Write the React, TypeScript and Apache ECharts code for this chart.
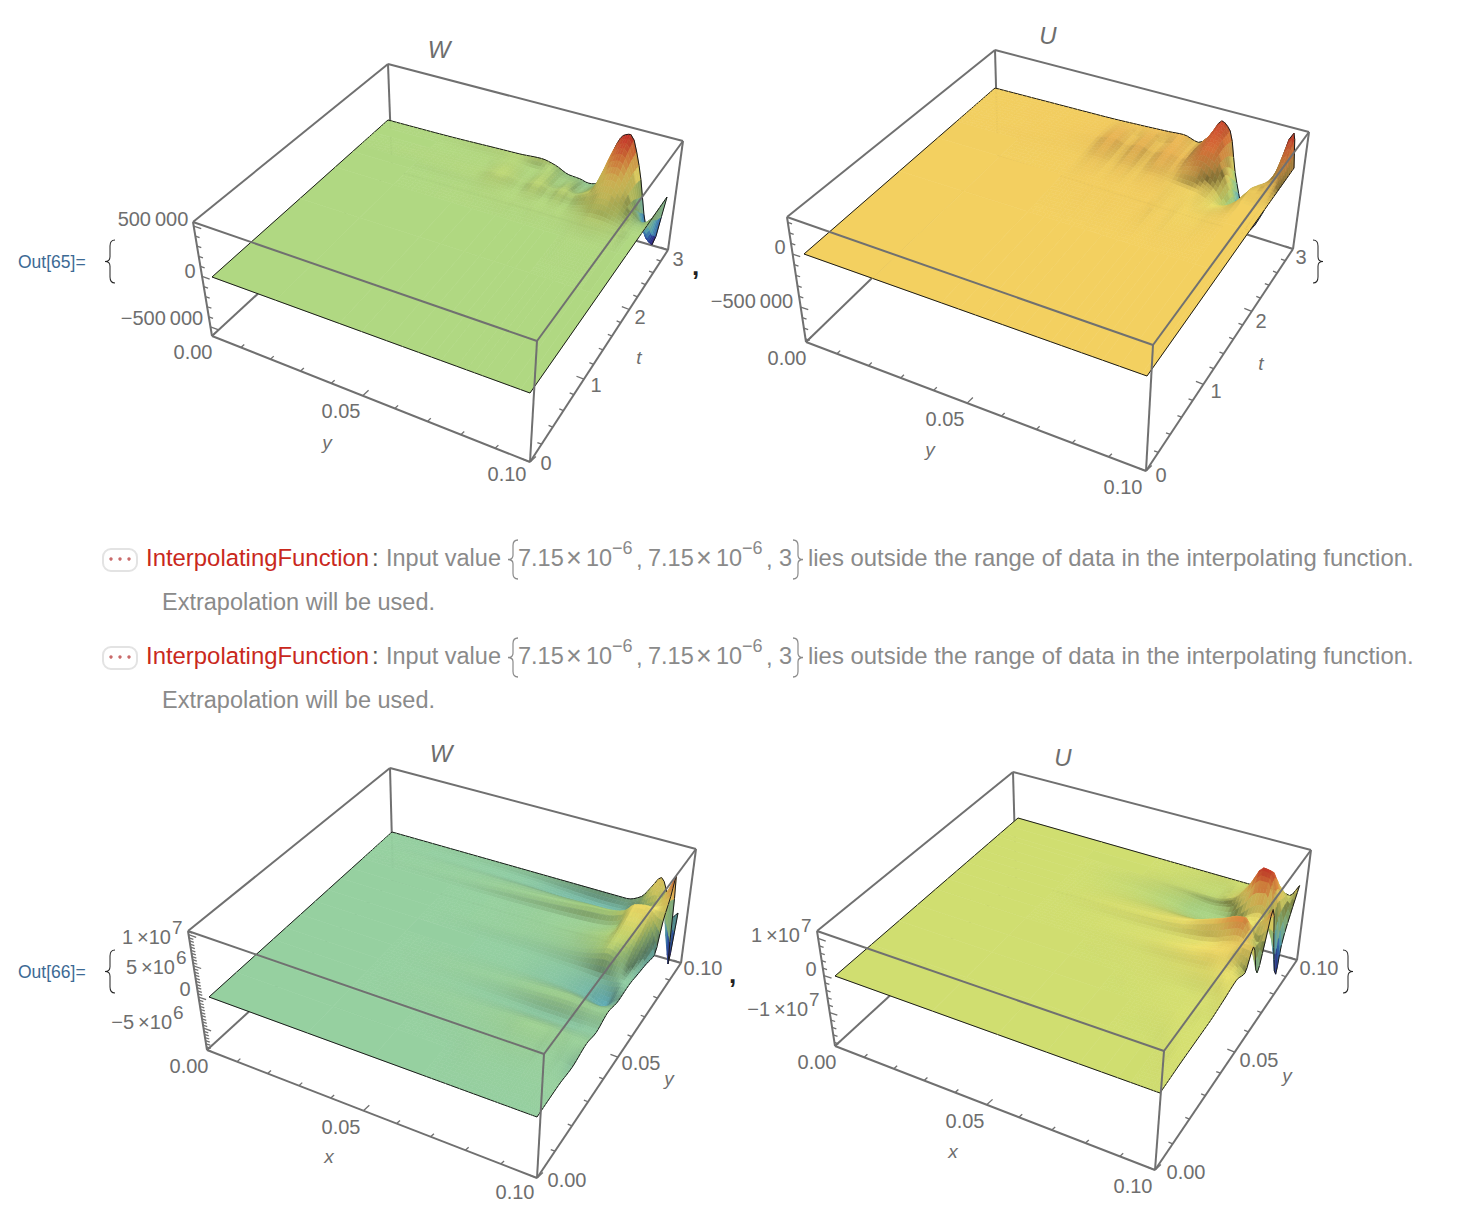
import React, { useEffect, useRef } from "react";
import * as echarts from "echarts";

// ---------- values (heights: W/U in 1e5 on top row, 1e6 on bottom row)
const P1_U = [0, .2, .4, .47, .55, .6, .65, .69, .72, .77, .80, .825, .85, .89, .94, .97, 1];
const P1_V = [0, .5, .7, .8, .84, .88, .92, .96, 1];
const P1_Z = [
  [0, 0, 0, 0, 0, 0, 0, 0, 0, 0, 0, 0, 0, 0, 0, 0, 0],
  [0, 0, 0, 0, 0, 0, 0, 0, 0, 0, 0, 0, 0, 0, 0, 0, 0],
  [0, 0, .03, .03, .03, .03, .03, .03, .03, .03, .05, .05, .05, .05, .03, 0, 0],
  [0, 0, .05, .1, .1, .1, .1, .1, .1, .2, .3, .4, .4, .3, .1, 0, 0],
  [0, .03, .1, .2, .08, .22, .08, .2, .1, .4, .7, 1, 1.1, .7, .1, -.1, 0],
  [0, .05, .12, .35, .12, .4, .15, .4, .25, .8, 1.4, 2, 2.2, 1.3, 0, -.5, 0],
  [0, .03, .08, .3, .05, .3, -.1, .2, -.2, .5, 2.2, 3.2, 3.4, 2, -1, -2, 0],
  [0, .03, .1, .2, .05, .2, -.2, -.1, -.5, .2, 3, 4.3, 4.6, 2.4, -2.5, -4, 0],
  [0, .05, .2, .25, .4, .1, -.5, -.6, -.8, -.3, 3.5, 5, 5.3, 2.4, -3.6, -5.2, 0],
];
const P2_U = [0, .2, .4, .45, .5, .54, .58, .63, .68, .72, .75, .78, .81, .84, .87, .92, .985, 1];
const P2_V = [0, .5, .7, .8, .85, .9, .95, 1];
const P2_Z = [
  [0, 0, 0, 0, 0, 0, 0, 0, 0, 0, 0, 0, 0, 0, 0, 0, 0, 0],
  [0, 0, 0, 0, 0, 0, 0, 0, 0, 0, 0, 0, 0, 0, 0, 0, 0, 0],
  [0, 0, .03, .05, .05, .05, .05, .05, .05, -.05, -.1, -.2, -.2, -.2, -.1, 0, 0, 0],
  [0, .03, .05, .15, .05, .15, .05, .15, .05, -.1, -.2, -.3, -.6, -1, -.8, 0, 0, 0],
  [0, .05, .1, .35, .1, .35, .1, .4, .2, .5, .6, 0, -.6, -1.6, -2.5, 0, .1, 0],
  [0, .05, .15, .5, .15, .5, .15, .55, .3, 1.1, 1.8, 1.6, .3, -1.5, -3, -.5, .4, 0],
  [0, .05, .12, .35, .1, .4, .1, .45, .2, 1.4, 2.4, 2, -.5, -3.5, -5.5, -3.5, 1.5, 0],
  [0, .05, .1, .15, .2, .25, .3, .4, 0, 1.2, 2.8, 2, -2, -5, -7.5, -5, 3.4, 0],
];
const P3_U = [0, .3, .5, .65, .75, .82, .87, .9, .93, .96, .98, 1];
const P3_V = [0, .15, .25, .35, .42, .5, .58, .65, .72, .78, .84, .88, .92, .945, .97, 1];
const P3_Z = [
  [0, 0, 0, 0, 0, 0, 0, 0, 0, 0, 0, 0],
  [0, 0, 0, 0, .1, .1, .1, .1, .1, .1, .1, .1],
  [0, 0, 0, .1, .2, .3, .3, .2, .2, .1, 0, -.2],
  [0, 0, .1, .2, .4, .6, .6, .5, .4, .3, .3, .3],
  [0, 0, 0, -.1, -.2, -.3, -.3, -.3, -.3, -.2, -.2, -.2],
  [0, 0, .1, .2, .5, .7, .8, .7, .6, .5, .5, .4],
  [0, 0, -.05, -.1, -.3, -.5, -.8, -1, -1.5, -1.8, -1, -.3],
  [0, 0, -.05, -.1, -.2, -.3, -.4, -.5, -.5, -.3, -.2, -.2],
  [0, 0, .1, .2, .4, .8, 1.5, 2, 1.5, .8, -.2, -.6],
  [0, 0, .1, .3, .6, 1.2, 1.8, 2.5, 2.5, 2, 0, -1],
  [0, 0, .1, .3, .5, .8, 1.6, 3.5, 3.5, 3, 1, -1.6],
  [0, .1, .5, 1, 1.5, 1.8, 2.6, 4, 4.3, 3.8, 3, 2.7],
  [0, .05, .2, .3, .4, .3, .3, 1.5, 2.5, 3.5, 4.5, 5.5],
  [0, -.1, -.3, -.8, -1, -1, -.5, 1, 2, 3.5, 5.5, 8],
  [0, -.1, -.3, -.7, -.9, -.8, .5, 2.5, 4, 2, -3, -7.5],
  [0, 0, 0, 0, 0, 0, 1, 3, 5, 2, -1, 0],
];
const P4_U = [0, .3, .5, .65, .75, .82, .87, .91, .94, .97, 1];
const P4_V = [0, .2, .35, .45, .55, .615, .665, .72, .76, .797, .84, .885, .905, .95, 1];
const P4_Z = [
  [0, 0, 0, 0, 0, 0, 0, 0, 0, 0, 0],
  [0, 0, 0, 0, 0, 0, 0, .1, .2, .3, .3],
  [0, 0, 0, 0, .1, .2, .3, .4, .4, .3, .3],
  [0, 0, 0, .1, .2, .3, .3, .4, .5, .6, .8],
  [0, 0, .1, .3, .6, 1, 1.3, 1.6, 1.8, 1.8, 1.5],
  [0, 0, .2, .6, 1.4, 2.2, 3, 3.5, 3.5, 2, 0],
  [0, 0, .2, .5, 1, 1.6, 2.5, 3.8, 4.5, 4.5, 4.5],
  [0, 0, .5, 1.2, 2.5, 4.5, 6, 7.5, 8, 3, -5.6],
  [0, 0, .2, .5, 1, 2, 3.5, 5, 4.5, 0, 1],
  [0, 0, -.2, -.6, -1.2, -.8, .5, 2, 2, 4, 7.8],
  [0, 0, -.4, -1.2, -2, -2, -.5, 2, 3, 0, -5],
  [0, 0, -.2, -.8, -1.5, -.5, 4, 9, 9, 0, -15],
  [0, 0, -.1, -.4, -.6, 1, 6, 11.5, 11, 3, -8],
  [0, 0, 0, -.2, -.4, .5, 3, 6, 6, 2, -2],
  [0, 0, 0, 0, 0, 0, 0, .5, .5, 0, 3.5],
];

// tick values
const Z_TICKS_P1 = [5, 0, -5];
const Z_TICKS_P2 = [0, -5];
const Z_TICKS_P3 = [10, 5, 0, -5];
const Z_TICKS_P4 = [10, 0, -10];
const TICK_FRACTIONS = [0, .1, .2, .3, .4, .5, .6, .7, .8, .9, 1];
const T_TICKS = [0, .2, .4, .6, .8, 1, 1.2, 1.4, 1.6, 1.8, 2, 2.2, 2.4, 2.6, 2.8, 3];

// ---------- colour scale (fraction of the height range -> colour)
const STOPS: [number, number[]][] = [
  [0, [70, 20, 130]], [.1, [45, 50, 140]], [.2, [50, 100, 180]], [.3, [90, 175, 195]], [.42, [150, 208, 160]],
  [.52, [176, 216, 130]], [.58, [208, 222, 112]], [.66, [245, 232, 110]], [.75, [243, 208, 96]],
  [.87, [232, 130, 62]], [1, [205, 45, 40]],
];
function cmap(f: number, shade: number) {
  f = Math.max(0, Math.min(1, f));
  let i = 0;
  while (i < STOPS.length - 2 && f > STOPS[i + 1][0]) i++;
  const [a, ca] = STOPS[i], [b, cb] = STOPS[i + 1];
  const t = (f - a) / (b - a);
  const c = ca.map((x, k) => Math.round((x + (cb[k] - x) * t) * shade));
  return `rgb(${c[0]},${c[1]},${c[2]})`;
}

// ---------- per-panel layout
type Pt = number[];
interface Panel {
  U: number[]; V: number[]; Z: number[][];
  plane: Pt[]; top: Pt[]; bot: Pt[]; // corners L, F, R, B
  zMin: number; zMax: number; f0: number; zLo: number; zHi: number; dark: number;
  zTicks: number[]; zMinorStep: number;
  kU: number; kV: number; vTicks: number[]; vMajorEvery: number;
}
const PANELS: Panel[] = [
  {
    U: P1_U, V: P1_V, Z: P1_Z, plane: [[212, 277], [530, 393], [667, 197], [388, 120]],
    top: [[193, 222], [537, 341], [683, 141], [388, 64]], bot: [[212, 336], [530, 462], [668, 250], [392, 170]],
    zMin: -5.9, zMax: 5.4, f0: .52, zLo: -5.2, zHi: 5.3, dark: .55, zTicks: Z_TICKS_P1, zMinorStep: 1,
    kU: 1.11, kV: .78, vTicks: T_TICKS, vMajorEvery: 5,
  },
  {
    U: P2_U, V: P2_V, Z: P2_Z, plane: [[804, 254], [1147, 376], [1294, 168], [995, 88]],
    top: [[787, 217], [1153, 345], [1309, 132], [995, 50]], bot: [[806, 342], [1146, 471], [1293, 249], [998, 156]],
    zMin: -8.3, zMax: 3.5, f0: .75, zLo: -7.5, zHi: 3.4, dark: .5, zTicks: Z_TICKS_P2, zMinorStep: 1,
    kU: 1.11, kV: .78, vTicks: T_TICKS, vMajorEvery: 5,
  },
  {
    U: P3_U, V: P3_V, Z: P3_Z, plane: [[209, 997], [537, 1117], [678, 913], [392, 832]],
    top: [[188, 931], [544, 1054], [696, 849], [390, 768]], bot: [[207, 1050], [537, 1178], [681, 963], [393, 880]],
    zMin: -8.5, zMax: 10.6, f0: .42, zLo: -7.5, zHi: 9, dark: .42, zTicks: Z_TICKS_P3, zMinorStep: .5,
    kU: 1.11, kV: .78, vTicks: TICK_FRACTIONS, vMajorEvery: 5,
  },
  {
    U: P4_U, V: P4_V, Z: P4_Z, plane: [[835, 976], [1160, 1093], [1298, 898], [1018, 818]],
    top: [[817, 931], [1164, 1051], [1311, 850], [1013, 772]], bot: [[835, 1046], [1155, 1170], [1297, 960], [1016, 880]],
    zMin: -19, zMax: 12, f0: .58, zLo: -15, zHi: 12, dark: .42, zTicks: Z_TICKS_P4, zMinorStep: 2,
    kU: 1.11, kV: .78, vTicks: TICK_FRACTIONS, vMajorEvery: 5,
  },
];

function bilerp(q: Pt[], u: number, v: number): Pt {
  const x0 = q[0][0] + (q[1][0] - q[0][0]) * u, y0 = q[0][1] + (q[1][1] - q[0][1]) * u;
  const x1 = q[3][0] + (q[2][0] - q[3][0]) * u, y1 = q[3][1] + (q[2][1] - q[3][1]) * u;
  return [x0 + (x1 - x0) * v, y0 + (y1 - y0) * v];
}
function project(p: Panel, u: number, v: number, z: number): Pt {
  const b = bilerp(p.plane, u, v), t = bilerp(p.top, u, v), c = bilerp(p.bot, u, v);
  const s = z / (p.zMax - p.zMin);
  return [b[0] + (t[0] - c[0]) * s, b[1] + (t[1] - c[1]) * s];
}

// monotone cubic through the read values, only used to shade the surface smoothly
function tangents(xs: number[], ys: number[]) {
  const n = xs.length, m = new Array(n).fill(0);
  for (let i = 0; i < n; i++) {
    if (i === 0) m[i] = (ys[1] - ys[0]) / (xs[1] - xs[0]);
    else if (i === n - 1) m[i] = (ys[n - 1] - ys[n - 2]) / (xs[n - 1] - xs[n - 2]);
    else {
      const h0 = xs[i] - xs[i - 1], h1 = xs[i + 1] - xs[i];
      const d0 = (ys[i] - ys[i - 1]) / h0, d1 = (ys[i + 1] - ys[i]) / h1;
      if (d0 * d1 <= 0) m[i] = 0;
      else { const w0 = 2 * h1 + h0, w1 = h1 + 2 * h0; m[i] = (w0 + w1) / (w0 / d0 + w1 / d1); }
    }
  }
  return m;
}
function hermite(xs: number[], ys: number[], ms: number[], x: number) {
  let i = 0;
  while (i < xs.length - 2 && x > xs[i + 1]) i++;
  const h = xs[i + 1] - xs[i], t = (x - xs[i]) / h, t2 = t * t, t3 = t2 * t;
  return (2 * t3 - 3 * t2 + 1) * ys[i] + (t3 - 2 * t2 + t) * h * ms[i] + (-2 * t3 + 3 * t2) * ys[i + 1] + (t3 - t2) * h * ms[i + 1];
}
function subdivide(nodes: number[], step: number) {
  const out: number[] = [], cell: number[] = [];
  for (let i = 0; i < nodes.length - 1; i++) {
    const d = nodes[i + 1] - nodes[i], n = Math.max(3, Math.ceil(d / step));
    cell.push(out.length);
    for (let k = 0; k < n; k++) out.push(nodes[i] + d * k / n);
  }
  cell.push(out.length);
  out.push(1);
  return { out, cell };
}
function surfaceCells(p: Panel) {
  const { out: su, cell: cu } = subdivide(p.U, .016);
  const { out: sv, cell: cv } = subdivide(p.V, .016);
  const rows = p.Z.map((r) => { const m = tangents(p.U, r); return su.map((x) => hermite(p.U, r, m, x)); });
  const F: number[][] = sv.map(() => new Array(su.length).fill(0));
  su.forEach((_, i) => {
    const col = rows.map((r) => r[i]), m = tangents(p.V, col);
    sv.forEach((y, j) => { F[j][i] = hermite(p.V, col, m, y); });
  });
  const eps = (p.zMax - p.zMin) * .004;
  const flat = (ci: number, cj: number) => {
    for (let j = cv[cj]; j <= cv[cj + 1]; j++) for (let i = cu[ci]; i <= cu[ci + 1]; i++) if (Math.abs(F[j][i]) > eps) return false;
    return true;
  };
  const cells: number[][] = [];
  const push = (i0: number, i1: number, j0: number, j1: number) => {
    const flag = (i0 === 0 ? 1 : 0) + (i1 === su.length - 1 ? 2 : 0) + (j0 === 0 ? 4 : 0) + (j1 === sv.length - 1 ? 8 : 0);
    cells.push([su[i0], su[i1], sv[j0], sv[j1], F[j0][i0], F[j0][i1], F[j1][i0], F[j1][i1], flag]);
  };
  for (let cj = p.V.length - 2; cj >= 0; cj--) {
    const flags = p.U.slice(0, -1).map((_, ci) => flat(ci, cj));
    flags.forEach((f, ci) => { if (f) push(cu[ci], cu[ci + 1], cv[cj], cv[cj + 1]); });
    for (let j = cv[cj + 1] - 1; j >= cv[cj]; j--) {
      for (let ci = 0; ci < flags.length; ci++) {
        if (flags[ci]) continue;
        for (let i = cu[ci]; i < cu[ci + 1]; i++) push(i, i + 1, j, j + 1);
      }
    }
  }
  return cells;
}

function surfaceSeries(p: Panel, idx: number) {
  const ppz = (bilerp(p.bot, .5, .5)[1] - bilerp(p.top, .5, .5)[1]) / (p.zMax - p.zMin);
  return {
    type: "custom", coordinateSystem: "none", z: 2, silent: true, progressive: 0, clip: false, animation: false,
    name: "surface" + idx,
    data: surfaceCells(p),
    renderItem: (_: any, api: any) => {
      const [u0, u1, v0, v1, a, b, c, d, flag] = [0, 1, 2, 3, 4, 5, 6, 7, 8].map((k) => api.value(k));
      const pts = [project(p, u0, v0, a), project(p, u1, v0, b), project(p, u1, v1, d), project(p, u0, v1, c)];
      const mean = (a + b + c + d) / 4;
      const f = mean >= 0 ? p.f0 + (1 - p.f0) * Math.min(1, mean / p.zHi) : p.f0 * (1 - Math.min(1, mean / p.zLo));
      const dzu = ((b - a + d - c) / 2) / (u1 - u0) * ppz / 300, dzv = ((c - a + d - b) / 2) / (v1 - v0) * ppz / 300;
      const slope = Math.min(1, Math.hypot(dzu, dzv));
      const low = Math.exp(-Math.abs(mean) / (.25 * p.zHi));
      const facing = dzv > 0 ? 1 : .55;
      const shade = 1 - (p.dark * low + .1 * (1 - low)) * slope * facing;
      const fill = cmap(f, shade);
      const poly = { type: "polygon", shape: { points: pts }, style: { fill, stroke: fill, lineWidth: .6 } };
      if (!flag) return poly;
      const children: any[] = [poly];
      const edge = (x: Pt, y: Pt) => children.push({ type: "polyline", shape: { points: [x, y] }, style: { stroke: "#1a1a1a", lineWidth: 1, fill: "none" } });
      if (flag & 1) edge(pts[0], pts[3]);
      if (flag & 2) edge(pts[1], pts[2]);
      if (flag & 4) edge(pts[0], pts[1]);
      if (flag & 8) edge(pts[3], pts[2]);
      return { type: "group", children };
    },
  };
}

const BOX = "#707070";
function lineSeries(segs: number[][], z: number, width: number) {
  return {
    type: "custom", coordinateSystem: "none", z, silent: true, progressive: 0, clip: false, animation: false,
    data: segs.map((s) => (s.length > 4 ? s : [...s, 0])),
    renderItem: (_: any, api: any) => ({
      type: "polyline",
      shape: { points: [[api.value(0), api.value(1)], [api.value(2), api.value(3)]] },
      style: { stroke: BOX, lineWidth: api.value(4) || width, fill: "none" },
    }),
  };
}
function backEdges(p: Panel) {
  const [L, , R, B] = p.bot, BT = p.top[3];
  return [[...L, ...B], [...R, ...B], [...BT, ...B]];
}
function frontEdges(p: Panel) {
  const [tl, tf, tr, tb] = p.top, [bl, bf, br] = p.bot;
  return [[...tl, ...tf], [...tf, ...tr], [...tr, ...tb], [...tb, ...tl], [...bl, ...bf], [...bf, ...br], [...tl, ...bl], [...tf, ...bf], [...tr, ...br]];
}
function unit(a: Pt, b: Pt) { const d = Math.hypot(b[0] - a[0], b[1] - a[1]); return [(b[0] - a[0]) / d, (b[1] - a[1]) / d]; }
function tickSegs(p: Panel) {
  const out: number[][] = [];
  const [bl, bf, br, bb] = p.bot;
  const add = (o: Pt, d: Pt, len: number) => out.push([o[0], o[1], o[0] + d[0] * len, o[1] + d[1] * len, 1.3]);
  const lerp = (a: Pt, b: Pt, t: number) => [a[0] + (b[0] - a[0]) * t, a[1] + (b[1] - a[1]) * t];
  const du = unit(bl, bb), dv = unit(bf, bl), dz = unit(p.top[0], p.top[1]);
  TICK_FRACTIONS.forEach((t, i) => {
    const f = t / (t + (1 - t) * p.kU);
    add(lerp(bl, bf, f), du, i % 5 === 0 ? 8 : 4.5);
  });
  const vMax = p.vTicks[p.vTicks.length - 1];
  p.vTicks.forEach((x, i) => {
    const t = x / vMax, f = t / (t + (1 - t) * p.kV);
    add(lerp(bf, br, f), dv, i % p.vMajorEvery === 0 ? 8 : 4.5);
  });
  const range = p.zMax - p.zMin, step = p.zMinorStep;
  for (let z = Math.ceil(p.zMin / step) * step; z <= p.zMax; z += step) {
    const f = (p.zMax - z) / range;
    add(lerp(p.top[0], p.bot[0], f), dz, p.zTicks.includes(z) ? 8 : 4.5);
  }
  return out;
}

// ---------- texts
const TICK_FONT = "20px 'Liberation Sans'";
const GREY = "#6e6e6e";
type Lbl = [string, number, number];
const LABELS: Lbl[] = [
  ["500\u2009000", 153, 219], ["0", 190, 271], ["−500\u2009000", 162, 318], ["0.00", 193, 352], ["0.05", 341, 411], ["0.10", 507, 474],
  ["0", 546, 463], ["1", 596, 385], ["2", 640, 317], ["3", 678, 259],
  ["0", 780, 247], ["−500\u2009000", 752, 301], ["0.00", 787, 358], ["0.05", 945, 419], ["0.10", 1123, 487],
  ["0", 1161, 475], ["1", 1216, 391], ["2", 1261, 321], ["3", 1301, 257],
  ["0", 185, 989], ["0.00", 189, 1066], ["0.05", 341, 1127], ["0.10", 515, 1192], ["0.00", 567, 1180], ["0.05", 641, 1063], ["0.10", 703, 968],
  ["0", 811, 969], ["0.00", 817, 1062], ["0.05", 965, 1121], ["0.10", 1133, 1186], ["0.00", 1186, 1172], ["0.05", 1259, 1060], ["0.10", 1319, 968],
];
const ITALICS: Lbl[] = [
  ["y", 327, 442], ["t", 639, 357], ["y", 930, 449], ["t", 1261, 363], ["x", 329, 1156], ["y", 669, 1078], ["x", 953, 1151], ["y", 1287, 1075],
];
const TITLES: Lbl[] = [["W", 439, 49], ["U", 1048, 35], ["W", 441, 753], ["U", 1063, 757]];
// mantissa text, its right edge, vertical centre, exponent
const POWERS: [string, number, number, string][] = [
  ["1\u2009×10", 171, 937, "7"], ["5\u2009×10", 175, 967, "6"], ["−5\u2009×10", 172, 1022, "6"],
  ["1\u2009×10", 800, 935, "7"], ["−1\u2009×10", 808, 1009, "7"],
];

echarts.graphic.registerShape("brace", echarts.graphic.extendPath(
  "M10 0C6 0 5 2 5 5L5 14C5 17 3 18 0 18C3 18 5 19 5 22L5 31C5 34 6 36 10 36" as any, {}));

function text(t: string, x: number, y: number, font: string, fill: string, align = "center") {
  return { type: "text", z: 20, silent: true, style: { text: t, x, y, font, fill, textAlign: align, textVerticalAlign: "middle" } };
}
function brace(x: number, y: number, w: number, h: number, stroke: string, lw = 1) {
  return { type: "brace", z: 20, silent: true, x, y, scaleX: w / 10, scaleY: h / 36, style: { fill: "none", stroke, lineWidth: lw } };
}
function message(y: number) {
  const F = "23.9px 'Liberation Sans'", N = "23.5px 'Liberation Sans'", S = "18px 'Liberation Sans'", X = "27px 'Liberation Sans'", G = "#8a8a8a";
  return [
    { type: "rect", z: 20, silent: true, shape: { x: 103, y: y - 9, width: 34, height: 22, r: 8 }, style: { fill: "#fff", stroke: "#e3e3e3", lineWidth: 2 } },
    ...[111, 120, 129].map((cx) => ({ type: "circle", z: 21, silent: true, shape: { cx, cy: y + 1, r: 1.7 }, style: { fill: "#c96a6a" } })),
    text("InterpolatingFunction", 146, y - .5, F, "#c9281c", "left"),
    text(":", 372, y - .5, F, "#555", "left"),
    text("Input value", 386, y, N, G, "left"),
    brace(508, y - 18, 10, 39, G, 1.2),
    text("7.15", 518, y, N, G, "left"), text("×", 566, y, X, G, "left"), text("10", 586, y, N, G, "left"), text("−6", 612, y - 10, S, G, "left"), text(",", 636, y, F, G, "left"),
    text("7.15", 648, y, N, G, "left"), text("×", 696, y, X, G, "left"), text("10", 716, y, N, G, "left"), text("−6", 742, y - 10, S, G, "left"), text(",", 766, y, F, G, "left"),
    text("3", 779, y, N, G, "left"),
    brace(803, y - 18, -10, 39, G, 1.2),
    text("lies outside the range of data in the interpolating function.", 808, y - .5, F, G, "left"),
    text("Extrapolation will be used.", 162, y + 44, N, G, "left"),
  ];
}
function allText() {
  const out: any[] = [];
  LABELS.forEach(([t, x, y]) => out.push(text(t, x, y, TICK_FONT, GREY)));
  ITALICS.forEach(([t, x, y]) => out.push(text(t, x, y, "italic 19px 'Liberation Sans'", GREY)));
  TITLES.forEach(([t, x, y]) => out.push(text(t, x, y, "italic 24px 'Liberation Sans'", GREY)));
  POWERS.forEach(([t, x, y, e]) => { out.push(text(t, x, y, TICK_FONT, GREY, "right")); out.push(text(e, x + 1, y - 10, "19px 'Liberation Sans'", GREY, "left")); });
  out.push(text("Out[65]=", 18, 262, "17.5px 'Liberation Sans'", "#3d6a94", "left"));
  out.push(text("Out[66]=", 18, 972, "17.5px 'Liberation Sans'", "#3d6a94", "left"));
  out.push(brace(105, 240, 10, 43, "#222"), brace(105, 950, 10, 43, "#222"), brace(1323, 240, -10, 43, "#222"), brace(1353, 950, -10, 43, "#222"));
  out.push(text(",", 692, 266, "bold 26px 'Liberation Sans'", "#222", "left"));
  out.push(text(",", 729, 974, "bold 26px 'Liberation Sans'", "#222", "left"));
  out.push(...message(558), ...message(656));
  return out;
}

export default function App() {
  const ref = useRef<HTMLDivElement>(null);
  useEffect(() => {
    document.body.style.margin = "0";
    const chart = echarts.init(ref.current!, undefined, { renderer: "svg" });
    const series: any[] = [];
    PANELS.forEach((p, i) => {
      series.push(lineSeries(backEdges(p), 1, 2));
      series.push(surfaceSeries(p, i));
      series.push(lineSeries([...frontEdges(p), ...tickSegs(p)], 3, 2));
    });
    chart.setOption({ animation: false, backgroundColor: "#fff", series, graphic: { elements: allText() } });
    return () => chart.dispose();
  }, []);
  return <div ref={ref} style={{ position: "absolute", left: 0, top: 0, width: 1460, height: 1214 }} />;
}
